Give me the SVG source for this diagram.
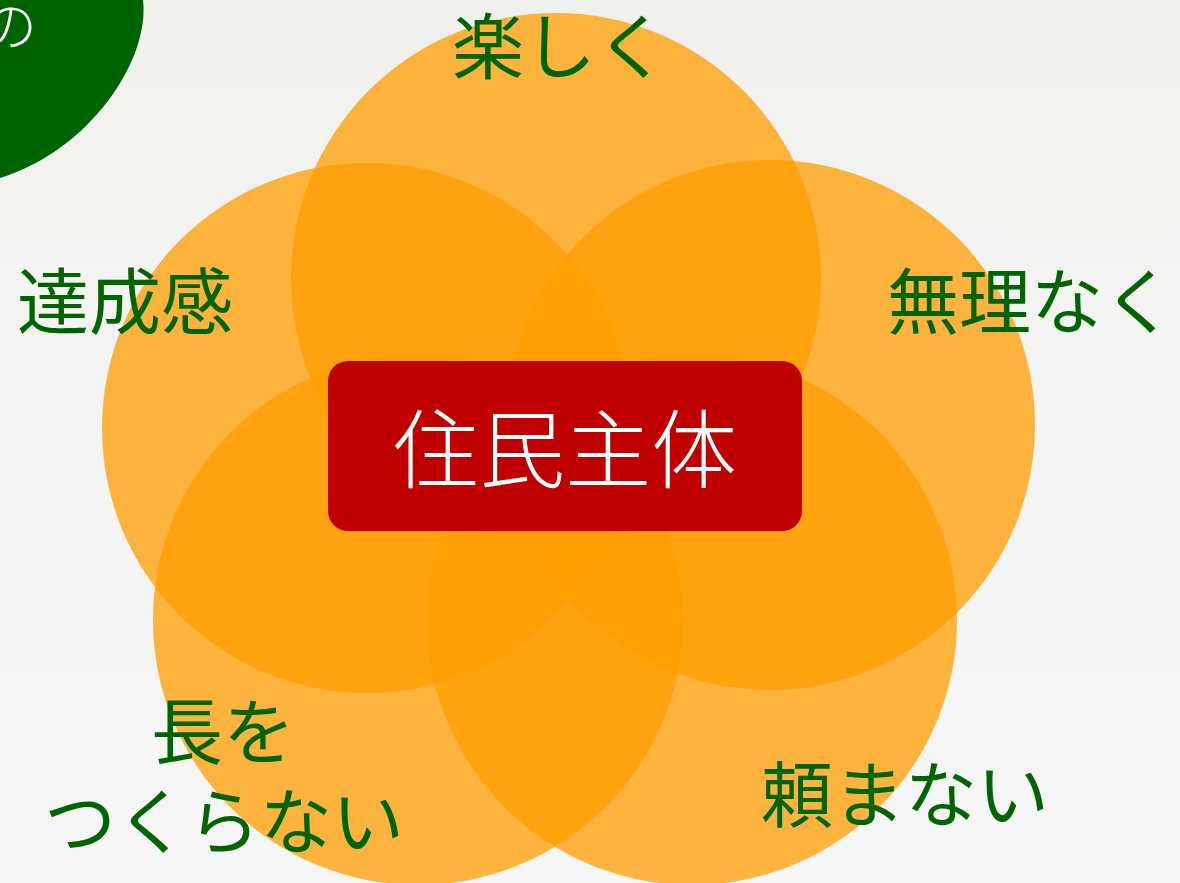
<svg xmlns="http://www.w3.org/2000/svg" width="1180" height="883" viewBox="0 0 1180 883">
  <defs>
    <linearGradient id="bg" x1="0" y1="0" x2="0" y2="1">
      <stop offset="0" stop-color="#F0F1EC"/>
      <stop offset="0.3" stop-color="#F3F3F1"/>
      <stop offset="1" stop-color="#F6F6F6"/>
    </linearGradient>
    <style>
      .petal { fill: #FF9E00; fill-opacity: 0.75; }
      .lbl { font-family: "Noto Sans CJK JP", "Noto Sans", sans-serif; font-size: 72px; fill: #006400; text-anchor: middle; }
      .center-txt { font-family: "Noto Sans CJK JP", "Noto Sans", sans-serif; font-size: 86px; font-weight: 300; fill: #FFFFFF; text-anchor: middle; }
    </style>
  </defs>
  <rect x="0" y="0" width="1180" height="883" fill="url(#bg)"/>

  <g id="corner-badge">
    <path d="M0,0 L143,0 C150,60 90,150 0,178 Z" fill="#006400"/>
    <text x="10" y="46" font-family="Noto Sans CJK JP, sans-serif" font-size="54" font-weight="300" fill="#FFFFFF" text-anchor="middle">の</text>
  </g>

  <g id="petals">
    <circle id="petal-top" class="petal" cx="556" cy="278" r="265"/>
    <circle id="petal-left" class="petal" cx="367" cy="428" r="265"/>
    <circle id="petal-right" class="petal" cx="770" cy="425" r="265"/>
    <circle id="petal-bottom-left" class="petal" cx="418" cy="620" r="265"/>
    <circle id="petal-bottom-right" class="petal" cx="692" cy="620" r="265"/>
  </g>

  <g id="label-tanoshiku"><text class="lbl" x="560" y="73">楽しく</text></g>
  <g id="label-tasseikan"><text class="lbl" x="125" y="328">達成感</text></g>
  <g id="label-murinaku"><text class="lbl" x="1031" y="328">無理なく</text></g>
  <g id="label-chou">
    <text class="lbl" x="223" y="758">長を</text>
    <text class="lbl" x="224" y="848">つくらない</text>
  </g>
  <g id="label-tanomanai"><text class="lbl" x="905" y="821">頼まない</text></g>

  <g id="center">
    <rect x="328" y="361" width="474" height="170" rx="20" ry="20" fill="#C00000"/>
    <text class="center-txt" x="565" y="482">住民主体</text>
  </g>
</svg>
